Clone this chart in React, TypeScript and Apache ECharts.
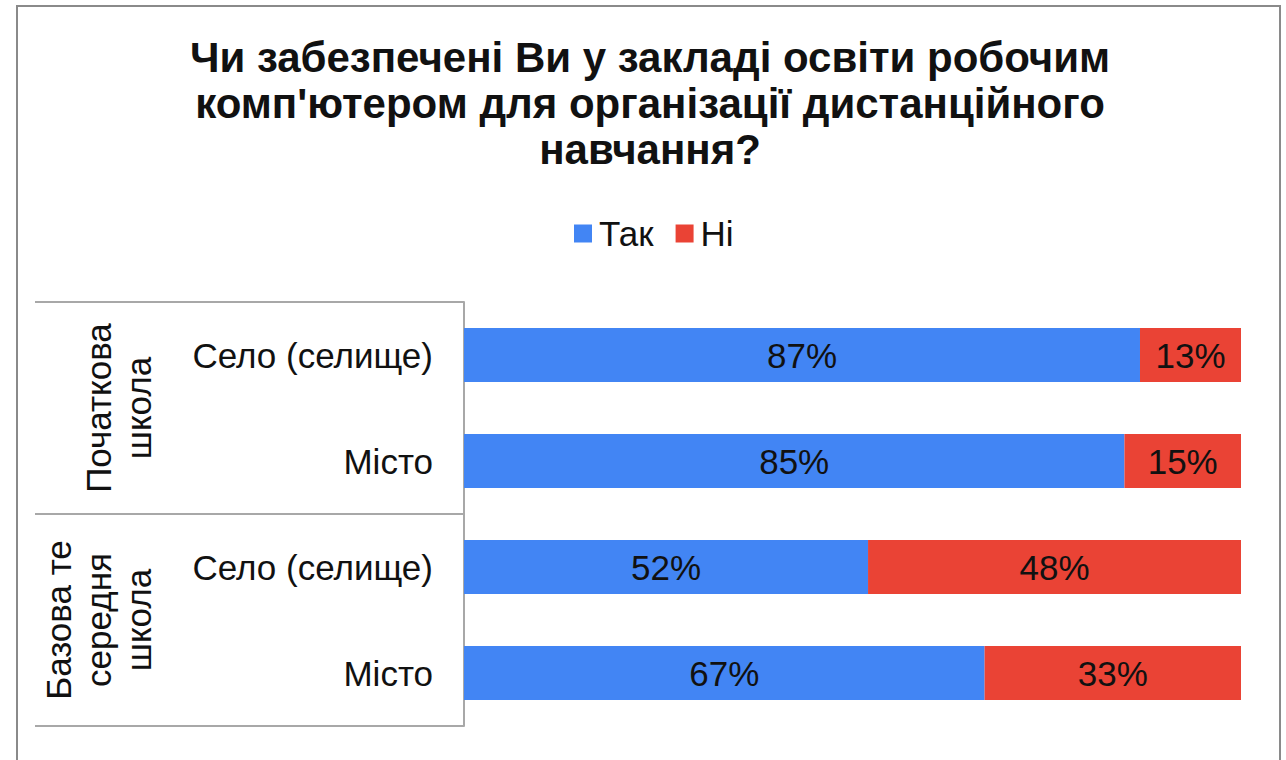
import React, { useEffect, useRef } from "react";
import * as echarts from "echarts";

const titleText = "Чи забезпечені Ви у закладі освіти робочим\nкомп'ютером для організації дистанційного\nнавчання?";
const categories = ["Село (селище)", "Місто", "Село (селище)", "Місто"];
const groups = ["Початкова\nшкола", "Базова те\nсередня\nшкола"];
const seriesNames = ["Так", "Ні"];
const yesValues = [87, 85, 52, 67];
const noValues = [13, 15, 48, 33];
const colors = ["#4285F4", "#EA4335"];

const FONT = "'Liberation Sans', Arial, sans-serif";

export default function App() {
  const ref = useRef<HTMLDivElement>(null);
  useEffect(() => {
    if (!ref.current) return;
    const chart = echarts.init(ref.current, null, { renderer: "svg" });
    const labelStyle = {
      show: true,
      position: "inside",
      formatter: "{c}%",
      fontSize: 35,
      color: "#111",
      fontFamily: FONT,
    };
    chart.setOption({
      animation: false,
      backgroundColor: "#fff",
      textStyle: { fontFamily: FONT },
      title: {
        text: titleText,
        left: 650,
        textAlign: "center",
        top: 34,
        padding: 0,
        textStyle: {
          fontSize: 42,
          fontWeight: "bold",
          color: "#111",
          lineHeight: 46,
          fontFamily: FONT,
        },
      },
      legend: {
        data: seriesNames,
        left: 574,
        top: 216,
        padding: 0,
        icon: "rect",
        itemWidth: 18,
        itemHeight: 18,
        itemGap: 22,
        textStyle: { fontSize: 35, color: "#111", fontFamily: FONT, padding: [0, 0, 0, 2] },
      },
      graphic: [
        {
          type: "rect",
          shape: { x: 17, y: 6, width: 1263, height: 780 },
          style: { fill: "none", stroke: "#8a8a8a", lineWidth: 2 },
          silent: true,
        },
      ],
      grid: { left: 464, right: 45, top: 302, bottom: 34, containLabel: false },
      xAxis: {
        type: "value",
        min: 0,
        max: 100,
        show: false,
      },
      yAxis: [
        {
          type: "category",
          data: categories,
          inverse: true,
          axisLine: { show: true, lineStyle: { color: "#a8a8a8", width: 2 } },
          axisTick: { show: false },
          axisLabel: { interval: 0, fontSize: 35, color: "#111", margin: 31, fontFamily: FONT },
        },
        {
          type: "category",
          data: groups,
          inverse: true,
          position: "left",
          axisLine: { show: false },
          axisTick: { show: true, interval: 0, length: 429, lineStyle: { color: "#a8a8a8", width: 2 } },
          axisLabel: {
            interval: 0,
            hideOverlap: false,
            rotate: 90,
            fontSize: 35,
            lineHeight: 40,
            color: "#111",
            margin: 306,
            fontFamily: FONT,
          },
        },
      ],
      series: [
        {
          name: seriesNames[0],
          type: "bar",
          stack: "total",
          yAxisIndex: 0,
          barWidth: 54,
          data: yesValues,
          itemStyle: { color: colors[0] },
          label: labelStyle,
        },
        {
          name: seriesNames[1],
          type: "bar",
          stack: "total",
          yAxisIndex: 0,
          barWidth: 54,
          data: noValues,
          itemStyle: { color: colors[1] },
          label: labelStyle,
        },
      ],
    });
    return () => chart.dispose();
  }, []);
  return (
    <div
      ref={ref}
      style={{ position: "fixed", left: 0, top: 0, width: 1286, height: 760, background: "#fff" }}
    />
  );
}
